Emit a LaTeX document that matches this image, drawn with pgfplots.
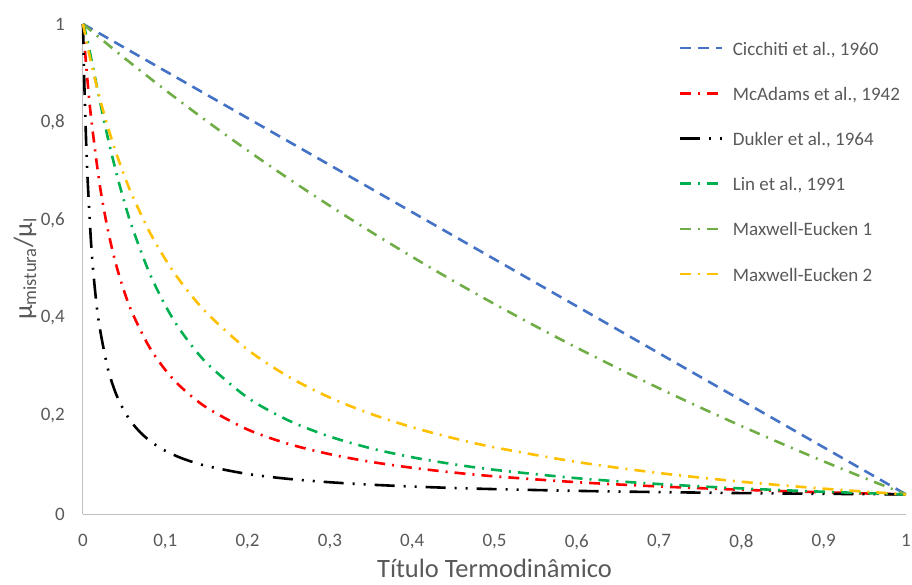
\documentclass[border=0pt]{standalone}
\usepackage{fontspec}
\setmainfont{Carlito}
\usepackage{pgfplots}
\pgfplotsset{compat=1.18}
\definecolor{cblue}{HTML}{4472C4}
\definecolor{cred}{HTML}{FF0000}
\definecolor{cgreen}{HTML}{00B050}
\definecolor{colive}{HTML}{70AD47}
\definecolor{cyellow}{HTML}{FFC000}
\definecolor{txt}{HTML}{595959}
\definecolor{axl}{HTML}{BFBFBF}
\begin{document}
\begin{tikzpicture}
\begin{axis}[name=A, scale only axis, width=823pt, height=490pt,
  xmin=0, xmax=1, ymin=0, ymax=1, clip=false,
  axis x line=bottom, axis y line=left,
  axis line style={-, draw=axl, line width=1pt},
  xtick={0,0.1,0.2,0.3,0.4,0.5,0.6,0.7,0.8,0.9,1},
  ytick={0,0.2,0.4,0.6,0.8,1},
  major tick length=0pt,
  tick label style={font=\fontsize{19}{23}\selectfont, text=txt},
  /pgf/number format/assume math mode=true, /pgf/number format/use comma,
  xticklabel style={anchor=north, inner sep=0pt, yshift=-20pt},
  yticklabel style={anchor=east, inner sep=0pt, xshift=-18pt},
  xlabel={Título Termodinâmico},
  xlabel style={at={(axis description cs:0.5,-0.1306)}, anchor=base, inner sep=0pt, font=\fontsize{26.5}{30}\selectfont, text=txt},
  ylabel={μ\textsubscript{mistura}/μ\textsubscript{l}},
  ylabel style={at={(axis description cs:-0.0705,0.5)}, anchor=center, inner sep=0pt, rotate=0, font=\fontsize{26.5}{30}\selectfont, text=txt},
  legend style={at={(axis description cs:0.723,0.9694)}, anchor=north west, draw=none, fill=none, inner sep=0pt, row sep=27.2pt, column sep=10pt, font=\fontsize{19}{23}\selectfont, text=txt, nodes={inner sep=0pt, text height=16pt, text depth=2pt}},
  legend cell align=left,
  legend image code/.code={\draw[#1] (0pt,0pt) -- (42pt,0pt);},
]
% Cicchiti et al., 1960
\addplot[cblue, line width=2.6pt, dash pattern=on 11pt off 7pt] coordinates {(0,1) (1,0.04)};
\addlegendentry{Cicchiti et al., 1960}
% McAdams et al., 1942
\addplot[cred, smooth, line width=2.6pt, dash pattern=on 11pt off 7pt on 2pt off 7pt] coordinates {
(0,1) (0.002,0.9542) (0.005,0.8929) (0.01,0.8065) (0.02,0.6757) (0.03,0.5814) (0.04,0.5102)
(0.05,0.4545) (0.06,0.4098) (0.08,0.3425) (0.1,0.2941) (0.12,0.2577) (0.15,0.2174) (0.2,0.1724)
(0.25,0.1429) (0.3,0.1220) (0.35,0.1064) (0.4,0.0943) (0.45,0.0847) (0.5,0.0769) (0.6,0.0649)
(0.7,0.0562) (0.8,0.0495) (0.9,0.0442) (1,0.04)};
\addlegendentry{McAdams et al., 1942}
% Dukler et al., 1964
\addplot[black, smooth, line width=2.6pt, dash pattern=on 20pt off 9pt on 2pt off 9pt on 2pt off 9pt] coordinates {
(0,1) (0.001,0.9223) (0.002,0.8561) (0.005,0.7057) (0.01,0.5482) (0.015,0.4502) (0.02,0.3834)
(0.03,0.2980) (0.04,0.2457) (0.05,0.2105) (0.06,0.1851) (0.07,0.1659) (0.08,0.1510) (0.09,0.1389)
(0.1,0.1291) (0.12,0.1138) (0.15,0.0981) (0.2,0.0817) (0.25,0.0716) (0.3,0.0648) (0.35,0.0598)
(0.4,0.0561) (0.45,0.0531) (0.5,0.0508) (0.6,0.0472) (0.7,0.0447) (0.8,0.0427) (0.9,0.0412) (1,0.04)};
\addlegendentry{Dukler et al., 1964}
% Lin et al., 1991
\addplot[cgreen, smooth, line width=2.6pt, dash pattern=on 11pt off 7pt on 2pt off 7pt] coordinates {
(0,1) (0.002,0.990) (0.005,0.969) (0.01,0.9295) (0.02,0.847) (0.03,0.769) (0.04,0.6996)
(0.05,0.638) (0.06,0.584) (0.08,0.4948) (0.1,0.4256) (0.12,0.371) (0.15,0.3086) (0.2,0.2375)
(0.25,0.1907) (0.3,0.1580) (0.35,0.1340) (0.4,0.1158) (0.45,0.1016) (0.5,0.0902) (0.6,0.0731)
(0.7,0.0611) (0.8,0.0522) (0.9,0.0454) (1,0.04)};
\addlegendentry{Lin et al., 1991}
% Maxwell-Eucken 1
\addplot[colive, smooth, line width=2.6pt, dash pattern=on 11pt off 7pt on 2pt off 7pt] coordinates {
(0,1) (0.05,0.9310) (0.1,0.8652) (0.15,0.8022) (0.2,0.7419) (0.25,0.6842) (0.3,0.6289)
(0.35,0.5758) (0.4,0.5248) (0.45,0.4757) (0.5,0.4286) (0.55,0.3832) (0.6,0.3394) (0.65,0.2973)
(0.7,0.2566) (0.75,0.2174) (0.8,0.1795) (0.85,0.1429) (0.9,0.1074) (0.95,0.0732) (1,0.04)};
\addlegendentry{Maxwell-Eucken 1}
% Maxwell-Eucken 2
\addplot[cyellow, smooth, line width=2.6pt, dash pattern=on 11pt off 7pt on 2pt off 7pt] coordinates {
(0,1) (0.002,0.9830) (0.005,0.9585) (0.01,0.92) (0.02,0.8510) (0.03,0.7910) (0.04,0.7382)
(0.05,0.6914) (0.06,0.6497) (0.08,0.5785) (0.1,0.52) (0.12,0.4710) (0.15,0.4109) (0.2,0.3354)
(0.25,0.28) (0.3,0.2376) (0.35,0.2042) (0.4,0.1771) (0.45,0.1548) (0.5,0.136) (0.6,0.1062)
(0.7,0.0836) (0.8,0.0659) (0.9,0.0517) (1,0.04)};
\addlegendentry{Maxwell-Eucken 2}
\end{axis}
\path (A.south west) ++(-83pt,-70pt);
\path (A.north east) ++(6pt,24pt);
\end{tikzpicture}
\end{document}
